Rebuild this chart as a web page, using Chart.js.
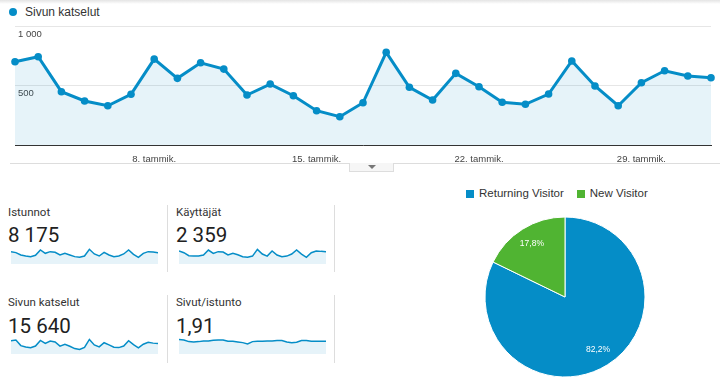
<!DOCTYPE html>
<html lang="fi">
<head>
<meta charset="utf-8">
<script src="https://cdn.jsdelivr.net/npm/chart.js@4.4.1/dist/chart.umd.min.js"></script>
<style>
    body { margin: 0; width: 720px; height: 384px; overflow: hidden; position: relative; background: #fff; font-family: Roboto, Arial, sans-serif; }
    .abs { position: absolute; }
    #varjo { left: 0; top: 0; width: 720px; height: 4px; background: linear-gradient(#e4e4e4, #fff); }
    #selite { left: 9px; top: 5px; font: 12px/14px "Liberation Sans", Arial, sans-serif; color: #333; }
    #selite i { position: absolute; left: 0; top: 3px; width: 8px; height: 8px; border-radius: 50%; background: #058DC7; }
    #selite span { margin-left: 16px; }
    .viiva { height: 1px; background: #ddd; }
    #valilehti { left: 349px; top: 163px; width: 43px; height: 8px; border: 1px solid #ddd; border-top: 0; background: #f6f6f6; }
    #valilehti::after { content: ""; position: absolute; left: 18px; top: 2px; border-left: 4px solid transparent; border-right: 4px solid transparent; border-top: 4px solid #777; }
    .nimi { font-size: 11.5px; line-height: 14px; color: #333; }
    .luku { font-size: 20.5px; line-height: 24px; color: #212121; }
    .erotin { width: 1px; background: #ddd; }
    #piiraSelite { left: 466px; top: 186px; font: 11.5px/14px "Liberation Sans", Arial, sans-serif; color: #333; white-space: nowrap; }
    #piiraSelite b { display: inline-block; width: 8px; height: 8px; margin-right: 5px; vertical-align: -1px; }
</style>
</head>
<body>
<div id="varjo" class="abs"></div>
<div id="selite" class="abs"><i></i><span>Sivun katselut</span></div>
<div class="abs viiva" style="left:10px;top:163px;width:710px"></div>
<div id="valilehti" class="abs"></div>
<canvas id="paakaavio" class="abs" style="left:0;top:0" width="720" height="175"></canvas>

<div class="abs nimi" style="left:8px;top:205px">Istunnot</div>
<div class="abs luku" style="left:8px;top:223px">8 175</div>
<canvas id="kipina1" class="abs" style="left:11px;top:246px" width="147" height="18"></canvas>
<div class="abs erotin" style="left:167px;top:205px;height:67px"></div>

<div class="abs nimi" style="left:176px;top:205px">Käyttäjät</div>
<div class="abs luku" style="left:176px;top:223px">2 359</div>
<canvas id="kipina2" class="abs" style="left:179px;top:246px" width="147" height="18"></canvas>
<div class="abs erotin" style="left:334px;top:205px;height:67px"></div>

<div class="abs nimi" style="left:8px;top:295px">Sivun katselut</div>
<div class="abs luku" style="left:8px;top:314px">15 640</div>
<canvas id="kipina3" class="abs" style="left:11px;top:336px" width="147" height="18"></canvas>
<div class="abs erotin" style="left:167px;top:295px;height:68px"></div>

<div class="abs nimi" style="left:176px;top:295px">Sivut/istunto</div>
<div class="abs luku" style="left:176px;top:314px">1,91</div>
<canvas id="kipina4" class="abs" style="left:179px;top:336px" width="147" height="18"></canvas>
<div class="abs erotin" style="left:334px;top:295px;height:68px"></div>

<div id="piiraSelite" class="abs"><b style="background:#058DC7"></b>Returning Visitor<b style="background:#50B432;margin-left:13px"></b>New Visitor</div>
<canvas id="piirakka" class="abs" style="left:465px;top:215px" width="200" height="164"></canvas>

<script>
// Päivät 2.1. - 1.2.
const paivat = ['2. tammik.', '3. tammik.', '4. tammik.', '5. tammik.', '6. tammik.', '7. tammik.', '8. tammik.',
    '9. tammik.', '10. tammik.', '11. tammik.', '12. tammik.', '13. tammik.', '14. tammik.', '15. tammik.',
    '16. tammik.', '17. tammik.', '18. tammik.', '19. tammik.', '20. tammik.', '21. tammik.', '22. tammik.',
    '23. tammik.', '24. tammik.', '25. tammik.', '26. tammik.', '27. tammik.', '28. tammik.', '29. tammik.',
    '30. tammik.', '31. tammik.', '1. helmik.'];
const nakyvatPaivat = ['8. tammik.', '15. tammik.', '22. tammik.', '29. tammik.'];
const yTikit = ['', '500', '1 000'];

// Sarjat
const sivunKatselut = [700, 742, 448, 370, 330, 426, 722, 560, 691, 638, 420, 512, 414, 288, 238, 355,
    779, 485, 378, 602, 490, 359, 342, 428, 706, 496, 330, 523, 624, 580, 565];
const istunnot = [324, 298, 236, 210, 193, 228, 368, 280, 324, 306, 236, 280, 236, 193, 175, 210,
    385, 263, 210, 306, 236, 193, 210, 263, 368, 254, 175, 280, 324, 315, 298];
const kayttajat = [97, 84, 62, 59, 59, 67, 104, 79, 92, 89, 67, 79, 69, 54, 50, 59,
    109, 74, 59, 97, 67, 54, 59, 74, 104, 74, 50, 84, 97, 94, 92];
const sivutIstunto = [2.15, 2.10, 1.85, 1.80, 1.85, 1.95, 1.95, 2.05, 2.10, 2.10, 1.90, 1.90, 1.80, 1.70, 1.50, 1.85,
    1.90, 1.90, 1.95, 1.95, 2.00, 2.00, 1.80, 1.70, 1.75, 2.00, 2.00, 1.90, 1.90, 1.90, 1.90];

// Kävijätyypit
const kavijat = ['Returning Visitor', 'New Visitor'];
const osuudet = [82.2, 17.8];

const sininen = '#058DC7';
const vaalea = 'rgba(5, 141, 199, 0.1)';

// Pääkaavio
new Chart(document.getElementById('paakaavio'), {
    type: 'line',
    data: {
        labels: paivat,
        datasets: [{
            label: 'Sivun katselut',
            data: sivunKatselut,
            borderColor: sininen,
            backgroundColor: vaalea,
            borderWidth: 3,
            fill: 'origin',
            pointRadius: 3.8,
            pointBorderWidth: 0,
            pointBackgroundColor: sininen,
            tension: 0,
            clip: false
        }]
    },
    options: {
        responsive: false,
        animation: false,
        devicePixelRatio: 1,
        // y-akselin peilatut tikit vievät silti 2*padding leveyttä
        layout: { padding: { left: 9, right: 7, top: 26, bottom: 0.6 } },
        plugins: { legend: { display: false }, tooltip: { enabled: false } },
        scales: {
            x: {
                grid: { display: false, drawTicks: false },
                border: { color: '#333', width: 1 },
                ticks: {
                    autoSkip: false,
                    maxRotation: 0,
                    padding: 9,
                    color: '#444',
                    font: { family: 'Liberation Sans', size: 9.5 },
                    callback: function (v, i) {
                        return nakyvatPaivat.includes(paivat[i]) ? paivat[i] : '';
                    }
                }
            },
            y: {
                min: 0,
                max: 1000,
                grid: { color: '#e6e6e6', drawTicks: false },
                border: { display: false },
                ticks: {
                    stepSize: 500,
                    mirror: true,
                    padding: 3,
                    labelOffset: 8,
                    color: '#444',
                    font: { family: 'Liberation Sans', size: 9.5 },
                    callback: (v, i) => yTikit[i]
                }
            }
        }
    }
});

// Pienet kaaviot
function piirraKipina(id, arvot, ylaraja) {
    new Chart(document.getElementById(id), {
        type: 'line',
        data: {
            labels: paivat,
            datasets: [{
                data: arvot,
                borderColor: sininen,
                backgroundColor: vaalea,
                borderWidth: 1.5,
                fill: 'origin',
                pointRadius: 0,
                tension: 0
            }]
        },
        options: {
            responsive: false,
            animation: false,
            devicePixelRatio: 1,
            layout: { padding: 0 },
            plugins: { legend: { display: false }, tooltip: { enabled: false } },
            scales: {
                x: { display: false },
                y: { display: false, min: 0, max: ylaraja }
            }
        }
    });
}

piirraKipina('kipina1', istunnot, 472);
piirraKipina('kipina2', kayttajat, 134);
piirraKipina('kipina3', sivunKatselut, 960);
piirraKipina('kipina4', sivutIstunto, 2.69);

// Prosentit piirakan päälle
const osuusTekstit = {
    id: 'osuusTekstit',
    afterDatasetsDraw(chart) {
        const ctx = chart.ctx;
        ctx.save();
        ctx.fillStyle = '#fff';
        ctx.font = '8.5px "Liberation Sans", Arial';
        ctx.textAlign = 'center';
        ctx.textBaseline = 'middle';
        chart.getDatasetMeta(0).data.forEach((kaari, i) => {
            const p = kaari.getProps(['x', 'y', 'startAngle', 'endAngle', 'outerRadius'], true);
            const kulma = (p.startAngle + p.endAngle) / 2;
            const r = p.outerRadius * 0.78;
            const teksti = osuudet[i].toFixed(1).replace('.', ',') + '%';
            ctx.fillText(teksti, p.x + Math.cos(kulma) * r, p.y + Math.sin(kulma) * r);
        });
        ctx.restore();
    }
};

new Chart(document.getElementById('piirakka'), {
    type: 'pie',
    data: {
        labels: kavijat,
        datasets: [{
            data: osuudet,
            backgroundColor: [sininen, '#50B432'],
            borderColor: '#fff',
            borderWidth: 1,
            radius: 80
        }]
    },
    options: {
        responsive: false,
        animation: false,
        devicePixelRatio: 1,
        plugins: { legend: { display: false }, tooltip: { enabled: false } }
    },
    plugins: [osuusTekstit]
});
</script>
</body>
</html>
